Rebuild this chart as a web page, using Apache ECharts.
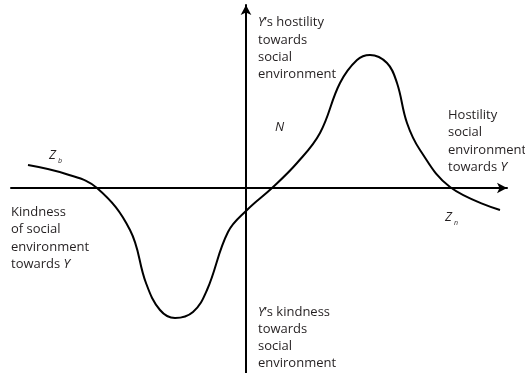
<!DOCTYPE html>
<html>
<head>
<meta charset="utf-8">
<script src="https://cdn.jsdelivr.net/npm/echarts@6/dist/echarts.min.js"></script>
<style>
  html, body { margin: 0; padding: 0; background: #fff; }
  #chart { width: 525px; height: 373px; }
</style>
</head>
<body>
<div id="chart"></div>
<script>
// curve, origin where the two axes cross
var curveX = [-218, -180, -149, -116, -100, -86, -71, -53, -39, -18, 1, 26, 51, 74, 94, 111, 124, 141, 151, 161, 174, 204, 254];
var curveY = [23, 14, 0, -42, -95, -122, -130, -124, -102, -44, -22, 0, 25, 55, 105, 128, 133, 125, 105, 65, 38, 1, -22];

var curveData = curveX.map(function (x, i) { return [x, curveY[i]] })

var font = '13px "Open Sans", sans-serif'
var italic = 'italic 13px "Open Sans", sans-serif'
var ink = '#231f20'

var chart = echarts.init(document.getElementById('chart'))
chart.setOption({
  animation: false,
  grid: { left: 11, right: 18, top: 5, bottom: 0 },
  xAxis: {
    type: 'value',
    min: -235,
    max: 261,
    splitLine: { show: false },
    axisTick: { show: false },
    axisLabel: { show: false },
    axisLine: {
      onZero: true,
      symbol: ['none', 'arrow'],
      symbolSize: [8, 10],
      lineStyle: { color: '#000', width: 2 }
    }
  },
  yAxis: {
    type: 'value',
    min: -185,
    max: 183,
    splitLine: { show: false },
    axisTick: { show: false },
    axisLabel: { show: false },
    axisLine: {
      onZero: true,
      symbol: ['none', 'arrow'],
      symbolSize: [8, 10],
      lineStyle: { color: '#000', width: 2 }
    }
  },
  series: [
    {
      type: 'line',
      data: curveData,
      smooth: 0.4,
      showSymbol: false,
      lineStyle: { color: '#000', width: 2 }
    }
  ],
  graphic: [
    {
      type: 'text', x: 258, y: 14,
      style: {
        text: '{i|Y}’s hostility\ntowards\nsocial\nenvironment',
        font: font, fill: ink, lineHeight: 17.3,
        rich: { i: { font: italic, fill: ink } }
      }
    },
    {
      type: 'text', x: 258, y: 304,
      style: {
        text: '{i|Y}’s kindness\ntowards\nsocial\nenvironment',
        font: font, fill: ink, lineHeight: 16.8,
        rich: { i: { font: italic, fill: ink } }
      }
    },
    {
      type: 'text', x: 11, y: 203,
      style: {
        text: 'Kindness\nof social\nenvironment\ntowards {i|Y}',
        font: font, fill: ink, lineHeight: 17.6,
        rich: { i: { font: italic, fill: ink } }
      }
    },
    {
      type: 'text', x: 448, y: 106,
      style: {
        text: 'Hostility\nsocial\nenvironment\ntowards {i|Y}',
        font: font, fill: ink, lineHeight: 17.6,
        rich: { i: { font: italic, fill: ink } }
      }
    },
    {
      type: 'text', x: 275, y: 127,
      style: { text: 'N', font: italic, fill: ink, verticalAlign: 'middle' }
    },
    {
      type: 'text', x: 49, y: 155,
      style: { text: 'Z', font: italic, fill: ink, verticalAlign: 'middle' }
    },
    {
      type: 'text', x: 58, y: 161,
      style: { text: 'b', font: 'italic 7px "Open Sans", sans-serif', fill: ink, verticalAlign: 'middle' }
    },
    {
      type: 'text', x: 445, y: 217,
      style: { text: 'Z', font: italic, fill: ink, verticalAlign: 'middle' }
    },
    {
      type: 'text', x: 454, y: 223,
      style: { text: 'n', font: 'italic 7px "Open Sans", sans-serif', fill: ink, verticalAlign: 'middle' }
    }
  ]
})
</script>
</body>
</html>
